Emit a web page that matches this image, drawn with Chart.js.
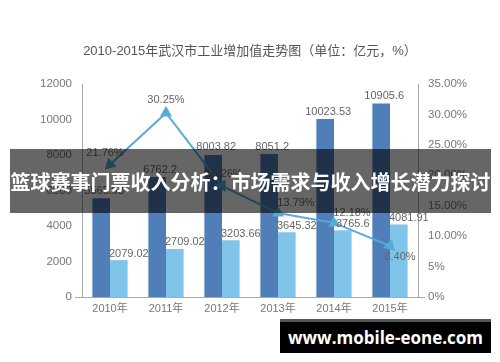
<!DOCTYPE html>
<html>
<head>
<meta charset="utf-8">
<script src="https://cdn.jsdelivr.net/npm/chart.js@4"></script>
<style>
  body { margin: 0; background: #fff; }
  #wrap { position: relative; width: 500px; height: 362px; }
  #banner {
    position: absolute; left: 10px; top: 149px; width: 481px; height: 64px;
    background: rgba(0, 0, 0, 0.6); color: #fff;
    font: bold 20px "Noto Sans CJK SC", sans-serif;
    display: flex; align-items: center; justify-content: center; white-space: nowrap;
  }
  #mark {
    position: absolute; left: 280px; top: 319px; width: 211px; height: 34px;
    background: #000; color: #fff; border-top: 3px solid #555; box-sizing: border-box;
    font: bold 17px "Open Sans", "Liberation Sans", sans-serif;
    display: flex; align-items: center; justify-content: center;
  }
</style>
</head>
<body>
<div id="wrap">
  <canvas id="chart" width="500" height="362"></canvas>
  <div id="banner">篮球赛事门票收入分析：市场需求与收入增长潜力探讨</div>
  <div id="mark">www.mobile-eone.com</div>
</div>
<script>
const years = ['2010年', '2011年', '2012年', '2013年', '2014年', '2015年'];
const totalValue = [5565.93, 6762.2, 8003.82, 8051.2, 10023.53, 10905.6];
const industryValue = [2079.02, 2709.02, 3203.66, 3645.32, 3765.6, 4081.91];
const growthRate = [21.76, 30.25, 18.26, 13.79, 12.18, 8.40];

const FONT = '"Liberation Sans", "Noto Sans CJK SC", sans-serif';

// where each value label sits relative to its mark (dx, dy)
const lineLabelOffsets = [[-5, -6], [0, -7], [2, -6], [18, -5], [18, -4], [10, 17]];

const valueLabels = {
  id: 'valueLabels',
  afterDatasetsDraw(chart) {
    const ctx = chart.ctx;
    ctx.save();
    ctx.font = '11px ' + FONT;
    ctx.fillStyle = '#666';
    ctx.textAlign = 'center';
    ctx.textBaseline = 'bottom';
    chart.data.datasets.forEach((ds, i) => {
      const meta = chart.getDatasetMeta(i);
      meta.data.forEach((el, j) => {
        const v = ds.data[j];
        if (ds.type === 'line') {
          const [dx, dy] = lineLabelOffsets[j];
          ctx.fillText(v.toFixed(2) + '%', el.x + dx, el.y + dy);
        } else if (i === 0) {
          ctx.fillText(String(v), el.x + 3, el.y - 2);
        } else {
          ctx.fillText(String(v), el.x + 10, el.y - 1);
        }
      });
    });
    ctx.restore();
  },
  afterDraw(chart) {
    // the little stubs where the x axis runs past both y axes
    const { ctx, chartArea } = chart;
    ctx.save();
    ctx.strokeStyle = '#aaa';
    ctx.lineWidth = 1;
    ctx.beginPath();
    ctx.moveTo(chartArea.left - 7, chartArea.bottom + 0.5);
    ctx.lineTo(chartArea.right + 7, chartArea.bottom + 0.5);
    ctx.stroke();
    ctx.restore();
  }
};

new Chart(document.getElementById('chart'), {
  data: {
    labels: years,
    datasets: [
      {
        type: 'bar',
        data: totalValue,
        backgroundColor: '#4f7eb8',
        yAxisID: 'y',
        order: 2,
        barPercentage: 1,
        categoryPercentage: 0.63,
      },
      {
        type: 'bar',
        data: industryValue,
        backgroundColor: '#80c4e9',
        yAxisID: 'y',
        order: 2,
        barPercentage: 1,
        categoryPercentage: 0.63,
      },
      {
        type: 'line',
        data: growthRate,
        yAxisID: 'y1',
        order: 1,
        borderColor: '#56acd6',
        backgroundColor: '#56acd6',
        borderWidth: 2,
        pointStyle: 'triangle',
        pointRadius: 5,
        pointRotation: [225, 0, 150, 120, 115, 135],
        tension: 0,
      },
    ],
  },
  options: {
    responsive: false,
    animation: false,
    layout: { padding: 0 },
    plugins: {
      legend: { display: false },
      tooltip: { enabled: false },
      title: {
        display: true,
        text: '2010-2015年武汉市工业增加值走势图（单位：亿元，%）',
        color: '#555',
        font: { family: FONT, size: 13, weight: 'normal' },
        padding: { top: 44, bottom: 24.4 },
      },
    },
    scales: {
      x: {
        grid: { display: false, drawTicks: false },
        border: { display: false },
        ticks: { color: '#777', padding: 5, font: { family: FONT, size: 11 } },
        afterFit: (s) => { s.height = 65; },
      },
      y: {
        position: 'left',
        min: 0, max: 12000,
        grid: { display: false, drawTicks: false },
        border: { display: true, color: '#aaa', width: 1 },
        ticks: {
          stepSize: 2000, color: '#777', padding: 10, font: { family: FONT, size: 11.5 },
          callback: (v) => String(v),
        },
        afterFit: (s) => { s.width = 82; },
      },
      y1: {
        position: 'right',
        min: 0, max: 35,
        grid: { display: false, drawTicks: false },
        border: { display: true, color: '#aaa', width: 1 },
        ticks: {
          stepSize: 5, color: '#777', padding: 10, font: { family: FONT, size: 11.5 },
          callback: (v) => (v >= 10 ? v.toFixed(2) + '%' : v + '%'),
        },
        afterFit: (s) => { s.width = 82; },
      },
    },
  },
  plugins: [valueLabels],
});
</script>
</body>
</html>
